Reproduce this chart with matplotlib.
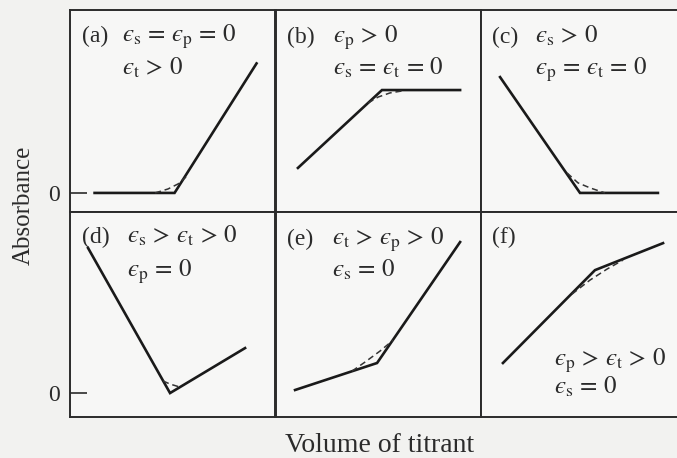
import matplotlib
matplotlib.use("Agg")
import matplotlib.pyplot as plt

# titration curves: solid = extrapolated straight lines, dashed = real curvature
vol_a = [0.12, 0.51, 0.91]
abs_a = [0.0, 0.0, 0.72]
vol_a_dash = [0.415, 0.478, 0.527, 0.566]
abs_a_dash = [0.0, 0.022, 0.05, 0.089]

vol_b = [0.107, 0.517, 0.898]
abs_b = [0.139, 0.572, 0.572]
vol_b_dash = [0.449, 0.498, 0.556, 0.615]
abs_b_dash = [0.50, 0.533, 0.556, 0.567]

vol_c = [0.093, 0.483, 0.863]
abs_c = [0.644, 0.0, 0.0]
vol_c_dash = [0.420, 0.473, 0.532, 0.605]
abs_c_dash = [0.111, 0.056, 0.028, 0.0]

vol_d = [0.088, 0.488, 0.854]
abs_d = [0.806, 0.0, 0.25]
vol_d_dash = [0.454, 0.488, 0.537]
abs_d_dash = [0.067, 0.05, 0.033]

vol_e = [0.093, 0.493, 0.898]
abs_e = [0.017, 0.167, 0.839]
vol_e_dash = [0.371, 0.434, 0.507, 0.571]
abs_e_dash = [0.122, 0.172, 0.233, 0.294]

vol_f = [0.107, 0.556, 0.888]
abs_f = [0.167, 0.683, 0.833]
vol_f_dash = [0.444, 0.532, 0.615, 0.693]
abs_f_dash = [0.55, 0.628, 0.689, 0.739]

letters = ["(a)", "(b)", "(c)", "(d)", "(e)", "(f)"]
cond1 = [r"$ϵ_\mathrm{s}\,=\,ϵ_\mathrm{p}\,=\,0$",
         r"$ϵ_\mathrm{p}\,>\,0$",
         r"$ϵ_\mathrm{s}\,>\,0$",
         r"$ϵ_\mathrm{s}\,>\,ϵ_\mathrm{t}\,>\,0$",
         r"$ϵ_\mathrm{t}\,>\,ϵ_\mathrm{p}\,>\,0$",
         r"$ϵ_\mathrm{p}\,>\,ϵ_\mathrm{t}\,>\,0$"]
cond2 = [r"$ϵ_\mathrm{t}\,>\,0$",
         r"$ϵ_\mathrm{s}\,=\,ϵ_\mathrm{t}\,=\,0$",
         r"$ϵ_\mathrm{p}\,=\,ϵ_\mathrm{t}\,=\,0$",
         r"$ϵ_\mathrm{p}\,=\,0$",
         r"$ϵ_\mathrm{s}\,=\,0$",
         r"$ϵ_\mathrm{s}\,=\,0$"]

solid = [(vol_a, abs_a), (vol_b, abs_b), (vol_c, abs_c),
         (vol_d, abs_d), (vol_e, abs_e), (vol_f, abs_f)]
dashed = [(vol_a_dash, abs_a_dash), (vol_b_dash, abs_b_dash), (vol_c_dash, abs_c_dash),
          (vol_d_dash, abs_d_dash), (vol_e_dash, abs_e_dash), (vol_f_dash, abs_f_dash)]

plt.rcParams["font.family"] = ["Liberation Serif", "DejaVu Serif"]
plt.rcParams["mathtext.fontset"] = "stix"

W, H = 677, 458
ink = "#2b2b2b"
fig = plt.figure(figsize=(W / 100, H / 100), dpi=100)
fig.patch.set_facecolor("#f2f2f0")

col_left = [70, 276, 481]
row_top = [10, 212]
row_h = [202, 205]
row_ylim = [(-0.106, 1.017), (-0.133, 1.006)]

# text layout in pixels: letter x, eq x, baseline line1, baseline line2
txt_pos = [
    (82, 122, 42, 75),
    (287, 333, 43, 75),
    (492, 535, 43, 75),
    (82, 127, 243, 277),
    (287, 332, 245, 277),
    (492, 554, 366, 394),
]
letter_y = [42, 43, 43, 243, 245, 243]

for i in range(6):
    r, c = divmod(i, 3)
    left = col_left[c]
    top = row_top[r]
    ax = fig.add_axes([left / W, 1 - (top + row_h[r]) / H, 205 / W, row_h[r] / H])
    ax.set_facecolor("#f7f7f6")
    ax.set_xlim(0, 1)
    ax.set_ylim(*row_ylim[r])
    for s in ax.spines.values():
        s.set_color(ink)
        s.set_linewidth(1.4)
    ax.set_xticks([])
    if c == 0:
        ax.set_yticks([0])
        ax.set_yticklabels(["0"])
        ax.tick_params(axis="y", direction="in", length=12, width=1.2,
                       color=ink, labelsize=17, labelcolor=ink, pad=7)
    else:
        ax.set_yticks([])

    xs, ys = solid[i]
    ax.plot(xs, ys, color="#1a1a1a", lw=1.9, solid_joinstyle="miter")
    dx, dy = dashed[i]
    ax.plot(dx, dy, color="#333333", lw=1.1, ls=(0, (4, 2.5)))

    lx, ex, b1, b2 = txt_pos[i]
    fig.text(lx / W, 1 - letter_y[i] / H, letters[i], fontsize=17, color=ink,
             va="baseline", ha="left")
    fig.text(ex / W, 1 - b1 / H, cond1[i], fontsize=18, color=ink,
             va="baseline", ha="left")
    fig.text(ex / W, 1 - b2 / H, cond2[i], fontsize=18, color=ink,
             va="baseline", ha="left")

fig.text(24 / W, 1 - 205 / H, "Absorbance", rotation=90, fontsize=18, color=ink,
         ha="center", va="center")
fig.text(380 / W, 1 - 452 / H, "Volume of titrant", fontsize=20, color=ink,
         ha="center", va="baseline")

fig.savefig("out.png", dpi=100, facecolor=fig.get_facecolor())
